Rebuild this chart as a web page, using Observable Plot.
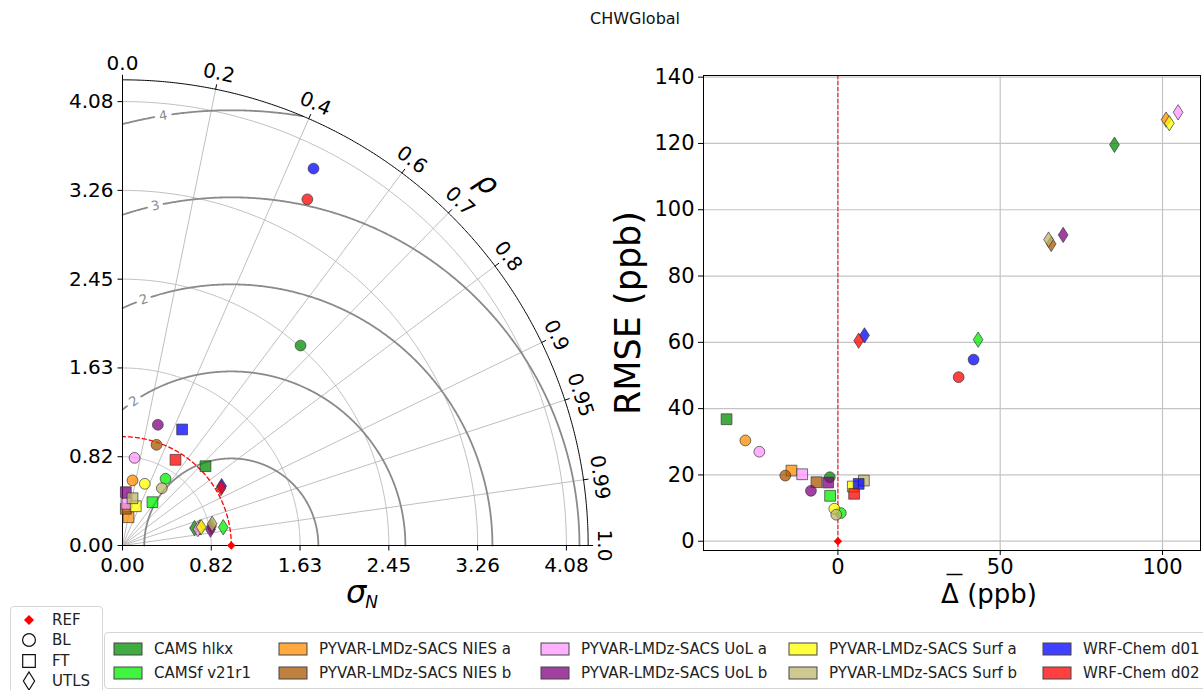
<!DOCTYPE html>
<html><head><meta charset="utf-8">
<script src="https://cdn.jsdelivr.net/npm/d3@7"></script>
<script src="https://cdn.jsdelivr.net/npm/@observablehq/plot@0.6"></script>
<style>
body{margin:0;background:#fff;font-family:"DejaVu Sans",sans-serif;}
#wrap{position:relative;width:1203px;height:690px;overflow:hidden;background:#fff;}
#title{position:absolute;left:0;width:1270px;top:9px;text-align:center;font-size:16px;color:#111;}
#taylor{position:absolute;left:0;top:0;}
#scatter{position:absolute;left:625px;top:0;}
#legShape{position:absolute;left:10px;top:606px;width:91px;height:100px;border:1px solid #d6d6d6;border-radius:4px;background:#fff;}
#legModel{position:absolute;left:104px;top:632px;width:1110px;height:55px;border:1px solid #d6d6d6;border-radius:4px;background:#fff;}
.li{position:absolute;font-size:15px;color:#222;white-space:nowrap;line-height:16px;}
.li svg{position:absolute;}
</style></head><body>
<div id="wrap">
  <div id="title">CHWGlobal</div>
  <div id="taylor"></div>
  <div id="scatter"></div>
  <div id="legShape"></div>
  <div id="legModel"></div>
</div>
<script>
// ---------------- data ----------------
const models = ["CAMS hlkx","CAMSf v21r1","PYVAR-LMDz-SACS NIES a","PYVAR-LMDz-SACS NIES b","PYVAR-LMDz-SACS UoL a","PYVAR-LMDz-SACS UoL b","PYVAR-LMDz-SACS Surf a","PYVAR-LMDz-SACS Surf b","WRF-Chem d01","WRF-Chem d02"];
const modelColors = ["#008f00","#00f000","#ff8c00","#ab5500","#ff96ff","#800080","#ffff00","#bdb76b","#0000ff","#ff0000"];
const regions = ["BL","FT","UTLS"];

// Taylor diagram: normalised standard deviation and correlation (model order)
const stdBL   = [2.461, 0.730, 0.605, 0.977, 0.813, 1.156, 0.603, 0.639, 3.884, 3.607];
const corBL   = [0.665, 0.542, 0.152, 0.320, 0.136, 0.281, 0.340, 0.566, 0.452, 0.471];
const stdFT   = [1.055, 0.484, 0.266, 0.339, 0.385, 0.491, 0.381, 0.444, 1.199, 0.926];
const corFT   = [0.723, 0.569, 0.207, 0.090, 0.095, 0.062, 0.320, 0.207, 0.457, 0.526];
const stdUTLS = [0.681, 0.941, 0.731, 0.836, 0.709, 0.822, 0.743, 0.848, 1.062, 1.048];
const corUTLS = [0.972, 0.984, 0.974, 0.978, 0.977, 0.984, 0.974, 0.972, 0.858, 0.864];

// Bias (ppb) and RMSE (ppb)
const biasBL   = [-2.5, 0.9, -28.5, -16.2, -24.2, -8.3, -1.1, -0.5, 41.8, 37.2];
const rmseBL   = [19.3, 8.5, 30.4, 19.8, 27.0, 15.2, 9.8, 8.0, 54.8, 49.5];
const biasFT   = [-34.3, -2.4, -14.3, -6.6, -11.0, -3.0, 4.6, 8.0, 6.4, 5.0];
const rmseFT   = [36.8, 13.7, 21.3, 17.8, 20.2, 17.7, 16.5, 18.3, 17.3, 14.3];
const biasUTLS = [85.2, 43.2, 101.1, 65.7, 104.8, 69.4, 102.1, 64.9, 8.2, 6.4];
const rmseUTLS = [119.6, 60.8, 127.2, 89.7, 129.4, 92.4, 126.1, 91.0, 62.1, 60.5];

const refStd = 1.0, refCor = 1.0, refBias = 0, refRmse = 0;

// axes / ticks
const stdTicks = [0, 0.816, 1.632, 2.448, 3.264, 4.08];
const stdTickLabels = ["0.00","0.82","1.63","2.45","3.26","4.08"];
const stdMax = 4.28;
const corTicks = [0.0,0.2,0.4,0.6,0.7,0.8,0.9,0.95,0.99,1.0];
const corTickLabels = ["0.0","0.2","0.4","0.6","0.7","0.8","0.9","0.95","0.99","1.0"];
const corGrid = [0.2,0.4,0.6,0.7,0.8,0.9,0.95,0.99];
const rmsLevels = [0.8,1.6,2.4,3.2,4.0];
const rmsLabelAngle = [null,124,109.6,102.6,99]; // degrees around REF where labels sit
const xTicks = [0,50,100];
const yTicks = [0,20,40,60,80,100,120,140];

// ---------------- symbols ----------------
const sqSym = {draw(ctx,size){const h=Math.sqrt(size/Math.PI)*1.0;ctx.moveTo(-h,-h);ctx.lineTo(h,-h);ctx.lineTo(h,h);ctx.lineTo(-h,h);ctx.closePath();}};
const dSym = {draw(ctx,size){const r=Math.sqrt(size/Math.PI);const w=r*0.9,hh=r*1.42;ctx.moveTo(0,-hh);ctx.lineTo(w,0);ctx.lineTo(0,hh);ctx.lineTo(-w,0);ctx.closePath();}};
const refSym = {draw(ctx,size){const r=Math.sqrt(size/Math.PI);ctx.moveTo(0,-r);ctx.lineTo(r,0);ctx.lineTo(0,r);ctx.lineTo(-r,0);ctx.closePath();}};
const barSym = {draw(ctx,size){const r=Math.sqrt(size/Math.PI);ctx.moveTo(-r,0);ctx.lineTo(r,0);}};
const symMap = {BL:"circle", FT:sqSym, UTLS:dSym};
const MR = 5.4;

// ---------------- Taylor diagram ----------------
const K = 108.8, OX = 122, OY = 545;
const deg = Math.PI/180;
const stdSets = {BL:[stdBL,corBL], FT:[stdFT,corFT], UTLS:[stdUTLS,corUTLS]};
const taylorData = [];
models.forEach((m,i)=>regions.forEach(reg=>{
  const s = stdSets[reg][0][i], c = stdSets[reg][1][i];
  taylorData.push({mi:i, region:reg, x:s*c, y:s*Math.sqrt(1-c*c)});
}));

function arc(r, cx, key, a0, a1, n=240){
  const out=[]; for(let j=0;j<=n;j++){const t=a0+(a1-a0)*j/n; out.push({x:cx+r*Math.cos(t), y:r*Math.sin(t), k:key});} return out;
}
const stdArcs = stdTicks.filter(v=>v>0).flatMap((v,i)=>arc(v,0,i,0,Math.PI/2));
const rimArc = arc(stdMax,0,0,0,Math.PI/2,400);
const refArc = arc(refStd,0,0,0,Math.PI/2,200);
const contourPts = [];
rmsLevels.forEach((R,i)=>{
  const la = rmsLabelAngle[i];
  for(let j=0;j<=900;j++){
    const p = Math.PI*j/900;
    const x = refStd + R*Math.cos(p), y = R*Math.sin(p);
    const inside = x>=0 && Math.hypot(x,y)<=stdMax;
    const gap = la!=null && Math.abs(p-la*deg)*R*K < 8;
    contourPts.push({x, y: (inside && !gap) ? y : NaN, k:i});
  }
});
const contourLabels = rmsLevels.map((R,i)=>({R,a:rmsLabelAngle[i]})).filter(d=>d.a!=null)
  .map(d=>({x:refStd+d.R*Math.cos(d.a*deg), y:d.R*Math.sin(d.a*deg), t:d3.format(".0f")(d.R), rot:90-d.a}));
const corLines = corGrid.map(c=>({x2:stdMax*c, y2:stdMax*Math.sqrt(1-c*c)}));
const corLab = corTicks.map((c,i)=>{const t=Math.acos(c);const r=482/K;return {x:r*Math.cos(t), y:r*Math.sin(t), t:corTickLabels[i], rot:90-t/deg};});
const corTk = corTicks.map(c=>{const t=Math.acos(c);const r2=stdMax+5/K;return {x1:stdMax*Math.cos(t),y1:stdMax*Math.sin(t),x2:r2*Math.cos(t),y2:r2*Math.sin(t)};});
const tk = 5/K;

const taylorMarks = [
  Plot.line(stdArcs,{x:"x",y:"y",z:"k",stroke:"#b8b8b8",strokeWidth:0.9}),
  Plot.link(corLines,{x1:0,y1:0,x2:"x2",y2:"y2",stroke:"#b8b8b8",strokeWidth:0.9}),
  Plot.line(contourPts,{x:"x",y:"y",z:"k",stroke:"#8a8a8a",strokeWidth:1.8}),
  Plot.text(contourLabels,{x:"x",y:"y",text:"t",rotate:"rot",fill:"#8a8a8a",fontSize:13}),
  Plot.line(refArc,{x:"x",y:"y",stroke:"red",strokeWidth:1.3,strokeDasharray:"4,3"}),
  Plot.line(rimArc,{x:"x",y:"y",stroke:"black",strokeWidth:1}),
  Plot.link([0],{x1:0,y1:0,x2:0,y2:stdMax,stroke:"black",strokeWidth:1}),
  Plot.link([0],{x1:0,y1:0,x2:stdMax,y2:0,stroke:"black",strokeWidth:1}),
  Plot.link(stdTicks,{x1:0,x2:-tk,y1:d=>d,y2:d=>d,stroke:"black"}),
  Plot.link(stdTicks,{y1:0,y2:-tk,x1:d=>d,x2:d=>d,stroke:"black"}),
  Plot.text(stdTicks,{x:0,y:d=>d,text:(d,i)=>stdTickLabels[i],dx:-9,textAnchor:"end",fontSize:20,fill:"black"}),
  Plot.text(stdTicks,{x:d=>d,y:0,text:(d,i)=>stdTickLabels[i],dy:20,fontSize:20,fill:"black"}),
  Plot.link(corTk,{x1:"x1",y1:"y1",x2:"x2",y2:"y2",stroke:"black"}),
  Plot.text(corLab,{x:"x",y:"y",text:"t",rotate:"rot",fontSize:20,fill:"black"}),
  Plot.text([0],{x:514/K*Math.cos(44.8*deg),y:514/K*Math.sin(44.8*deg),text:["ρ"],rotate:45.2,fontSize:30,fontStyle:"italic",fill:"black"}),
  Plot.text([0],{x:stdMax/2,y:0,text:["σ"],dx:11,dy:57,textAnchor:"end",lineAnchor:"bottom",fontSize:32,fontStyle:"italic",fill:"black"}),
  Plot.text([0],{x:stdMax/2,y:0,text:["N"],dx:10,dy:62,textAnchor:"start",lineAnchor:"bottom",fontSize:17,fontStyle:"italic",fill:"black"})
];
models.forEach((m,i)=>regions.forEach(reg=>{
  taylorMarks.push(Plot.dot(taylorData.filter(d=>d.mi===i&&d.region===reg),{x:"x",y:"y",r:MR,symbol:symMap[reg],fill:modelColors[i],fillOpacity:0.75,stroke:"#333",strokeWidth:0.8,strokeOpacity:0.85}));
}));
taylorMarks.push(Plot.dot([0],{x:refStd*refCor,y:0,r:4.2,symbol:refSym,fill:"red",stroke:"none"}));

const taylor = Plot.plot({
  width:625, height:612,
  x:{type:"linear",domain:[0,1],range:[OX,OX+K],axis:null},
  y:{type:"linear",domain:[0,1],range:[OY,OY-K],axis:null},
  style:{fontFamily:"DejaVu Sans",background:"transparent",overflow:"visible"},
  marks:taylorMarks
});
document.getElementById("taylor").append(taylor);

// ---------------- Bias / RMSE scatter ----------------
const scSets = {BL:[biasBL,rmseBL], FT:[biasFT,rmseFT], UTLS:[biasUTLS,rmseUTLS]};
const scData = [];
models.forEach((m,i)=>regions.forEach(reg=>scData.push({mi:i,region:reg,b:scSets[reg][0][i],r:scSets[reg][1][i]})));
const scMarks = [
  Plot.ruleX(xTicks,{stroke:"#c4c4c4",strokeWidth:1.2}),
  Plot.ruleY(yTicks,{stroke:"#c4c4c4",strokeWidth:1.2}),
  Plot.ruleX([refBias],{stroke:"red",strokeWidth:1,strokeDasharray:"4,2"}),
  Plot.frame({stroke:"black",strokeWidth:1}),
  Plot.axisX({ticks:xTicks,tickSize:5,tickPadding:4,fontSize:21,label:null,tickFormat:d3.format("d")}),
  Plot.axisY({ticks:yTicks,tickSize:5,tickPadding:4,fontSize:21,label:null,tickFormat:d3.format("d")}),
  Plot.text(["RMSE (ppb)"],{frameAnchor:"left",text:d=>d,rotate:-90,dx:-75,textAnchor:"middle",lineAnchor:"middle",fontSize:35,fill:"black"}),
  Plot.text(["Δ (ppb)"],{frameAnchor:"bottom",text:d=>d,dx:37,dy:52,textAnchor:"middle",fontSize:26,fill:"black"}),
  Plot.dot([0],{frameAnchor:"bottom",dx:2.5,dy:24,r:8,symbol:barSym,fill:"none",stroke:"black",strokeWidth:1.5})
];
models.forEach((m,i)=>regions.forEach(reg=>{
  scMarks.push(Plot.dot(scData.filter(d=>d.mi===i&&d.region===reg),{x:"b",y:"r",r:MR,symbol:symMap[reg],fill:modelColors[i],fillOpacity:0.75,stroke:"#333",strokeWidth:0.8,strokeOpacity:0.85}));
}));
scMarks.push(Plot.dot([0],{x:refBias,y:refRmse,r:4.2,symbol:refSym,fill:"red",stroke:"none"}));
const scatter = Plot.plot({
  width:578, height:620,
  marginLeft:78, marginRight:3, marginTop:75, marginBottom:70,
  x:{type:"linear",domain:[-41.4,111.7],axis:null},
  y:{type:"linear",domain:[-2.8,140.5],axis:null},
  style:{fontFamily:"DejaVu Sans",background:"transparent",overflow:"visible",color:"black"},
  marks:scMarks
});
document.getElementById("scatter").append(scatter);

// ---------------- legends ----------------
const ns="http://www.w3.org/2000/svg";
function mk(tag,attrs){const e=document.createElementNS(ns,tag);for(const k in attrs)e.setAttribute(k,attrs[k]);return e;}
const shapeItems=[
  {t:"REF", d:"M0,-5L5,0L0,5L-5,0Z", fill:"red", stroke:"none"},
  {t:"BL", d:d3.symbol(d3.symbolCircle,130)(), fill:"none", stroke:"#111"},
  {t:"FT", d:"M-6.3,-6.3H6.3V6.3H-6.3Z", fill:"none", stroke:"#111"},
  {t:"UTLS", d:"M0,-9L5.6,0L0,9L-5.6,0Z", fill:"none", stroke:"#111"}
];
const ls=document.getElementById("legShape");
shapeItems.forEach((s,i)=>{
  const div=document.createElement("div");div.className="li";
  div.style.left="0px";div.style.top=(5+i*20.3)+"px";div.style.width="90px";div.style.height="16px";
  const svg=mk("svg",{width:30,height:22});svg.style.left="4px";svg.style.top="-3px";
  svg.append(mk("path",{d:s.d,transform:"translate(14,11)",fill:s.fill,stroke:s.stroke,"stroke-width":1.2}));
  div.append(svg);
  const sp=document.createElement("span");sp.textContent=s.t;sp.style.position="absolute";sp.style.left="41px";sp.style.top="0px";
  div.append(sp);ls.append(div);
});
const lm=document.getElementById("legModel");
const colLeft=[8,173,435,683,937];
models.forEach((m,i)=>{
  const col=Math.floor(i/2), row=i%2;
  const div=document.createElement("div");div.className="li";
  div.style.left=colLeft[col]+"px";div.style.top=(8+row*24)+"px";div.style.height="16px";div.style.width="260px";
  const svg=mk("svg",{width:32,height:16});svg.style.left="0px";svg.style.top="0px";
  svg.append(mk("rect",{x:1,y:2,width:28,height:12,fill:modelColors[i],"fill-opacity":0.75,stroke:"#444","stroke-width":1}));
  div.append(svg);
  const sp=document.createElement("span");sp.textContent=m;sp.style.position="absolute";sp.style.left="41px";sp.style.top="0px";
  div.append(sp);lm.append(div);
});
</script>
</body></html>
